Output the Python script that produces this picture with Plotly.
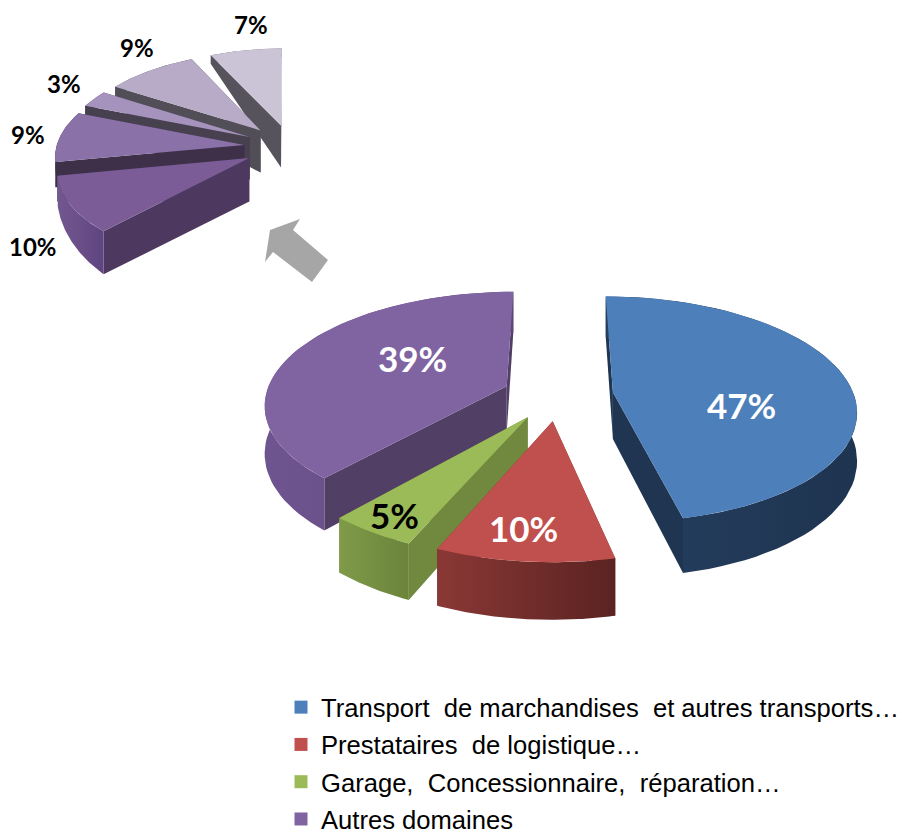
import math
import plotly.graph_objects as go

MAIN_LABELS = ["Transport  de marchandises  et autres transports…", "Prestataires  de logistique…",
               "Garage,  Concessionnaire,  réparation…", "Autres domaines"]
MAIN_VALUES = [47, 10, 5, 39]
SUB_VALUES = [10, 9, 3, 9, 7]

MAIN_TOP = ["#4D7FBA", "#C0504D", "#9BBB59", "#8064A2"]
MAIN_CUT = ["#1F3552", "#7F3331", "#71893F", "#523F66"]
MAIN_RIM = [("#263F60", "#1E3450"), ("#8A3835", "#5A2321"), ("#7F9B49", "#6A843A"), ("#6F5590", "#5D4678")]
SUB_TOP = ["#7B5C96", "#8A71A8", "#A593BE", "#B8ABC8", "#CBC4D6"]
SUB_CUT = ["#4D3960", "#3D3048", "#47404F", "#524E58", "#57535C"]
SUB_RIM = [("#73578F", "#5F4580"), ("#3D3048", "#3D3048"), ("#47404F", "#47404F"), ("#524E58", "#524E58"), ("#57535C", "#57535C")]

MAIN_GEO = dict(cx=558, cy=395, rx=241, ry=111, k=0.15, e=0.23)
SUB_GEO = dict(cx=291, cy=147, rx=188, ry=90, k=0.11, e=0.25)
MAIN_DEPTH = 47


def project(geo, mid, r, a, h):
    gx = geo["e"] * math.sin(mid) + r * math.sin(a)
    gy = -geo["e"] * math.cos(mid) - r * math.cos(a)
    s = 1 / (1 - geo["k"] * gy)
    return geo["cx"] + geo["rx"] * gx * s, geo["cy"] + (geo["ry"] * gy + h) * s


def main_depth(r, a):
    return MAIN_DEPTH


def sub_depth(r, a):
    rim = max(10, 20 - 26 * math.cos(a))
    return 43 + r * (rim - 43)


def poly(xy, **kw):
    return go.Scatter(x=[p[0] for p in xy], y=[p[1] for p in xy], mode="lines", fill="toself",
                      line=dict(width=0), hoverinfo="skip", showlegend=False, **kw)


def solid(c):
    return dict(fillcolor=c)


def grad(c0, c1):
    return dict(fillgradient=dict(type="horizontal", colorscale=[[0, c0], [1, c1]]))


def add_slice(fig, geo, a0, a1, depth, top, cut, rim):
    mid = (a0 + a1) / 2
    n = 60
    arc = [a0 + (a1 - a0) * i / n for i in range(n + 1)]
    for a in (a0, a1):
        fig.add_trace(poly([project(geo, mid, 0, a, 0), project(geo, mid, 1, a, 0),
                            project(geo, mid, 1, a, depth(1, a)), project(geo, mid, 0, a, depth(0, a))],
                           **solid(cut)))
    up = [project(geo, mid, 1, a, 0) for a in arc]
    down = [project(geo, mid, 1, a, depth(1, a)) for a in reversed(arc)]
    fig.add_trace(poly(up + down, **grad(*rim)))
    fig.add_trace(poly([project(geo, mid, 0, a0, 0)] + up, **solid(top)))


fig = go.Figure()

main_total = sum(MAIN_VALUES)
bounds = [0.0]
for v in MAIN_VALUES:
    bounds.append(bounds[-1] + v / main_total * 2 * math.pi)
for i in (0, 3, 2, 1):  # back to front
    add_slice(fig, MAIN_GEO, bounds[i], bounds[i + 1], main_depth, MAIN_TOP[i], MAIN_CUT[i], MAIN_RIM[i])

sub_bounds = [2 * math.pi - sum(SUB_VALUES) / 100 * 2 * math.pi]
for v in SUB_VALUES:
    sub_bounds.append(sub_bounds[-1] + v / 100 * 2 * math.pi)
for i in (4, 3, 2, 1, 0):
    add_slice(fig, SUB_GEO, sub_bounds[i], sub_bounds[i + 1], sub_depth, SUB_TOP[i], SUB_CUT[i], SUB_RIM[i])

for name, c in zip(MAIN_LABELS, MAIN_TOP):
    fig.add_trace(go.Scatter(x=[None], y=[None], mode="markers", name=name, legendgroup=name,
                             marker=dict(symbol="square", size=13, color=c)))

ARROW = "M300,219 L293,230 L328,260 L312,282 L273,252 L265,262 L270,230 Z"
fig.add_shape(type="path", path=ARROW, xref="x", yref="y", fillcolor="#A6A6A6", line=dict(width=0))

LABEL_FONT = "Lato"
main_pos = [(741, 405, "white"), (523, 528, "white"), (394, 515, "black"), (412, 358, "white")]
for v, (x, y, c) in zip(MAIN_VALUES, main_pos):
    fig.add_annotation(x=x, y=y, text=f"<b>{v}%</b>", showarrow=False, font=dict(family=LABEL_FONT, size=35, color=c))
sub_pos = [(33, 246), (28, 134), (64, 83), (137, 47), (251, 24)]
for v, (x, y) in zip(SUB_VALUES, sub_pos):
    fig.add_annotation(x=x, y=y, text=f"<b>{v}%</b>", showarrow=False, font=dict(family=LABEL_FONT, size=24, color="black"))

fig.update_layout(
    width=903, height=829, margin=dict(l=0, r=0, t=0, b=0, autoexpand=False), paper_bgcolor="white", plot_bgcolor="white",
    xaxis=dict(range=[0, 903], visible=False, fixedrange=True),
    yaxis=dict(range=[829, 0], visible=False, fixedrange=True),
    showlegend=True,
    legend=dict(x=281 / 903, xanchor="left", y=1 - 684 / 829, yanchor="top", bgcolor="rgba(0,0,0,0)",
                font=dict(family="Liberation Sans", size=25.6, color="black"), tracegroupgap=1,
                itemwidth=30, itemsizing="trace"),
)
fig.write_html("out.html", post_script="document.body.style.margin='0';", config=dict(displayModeBar=False))
